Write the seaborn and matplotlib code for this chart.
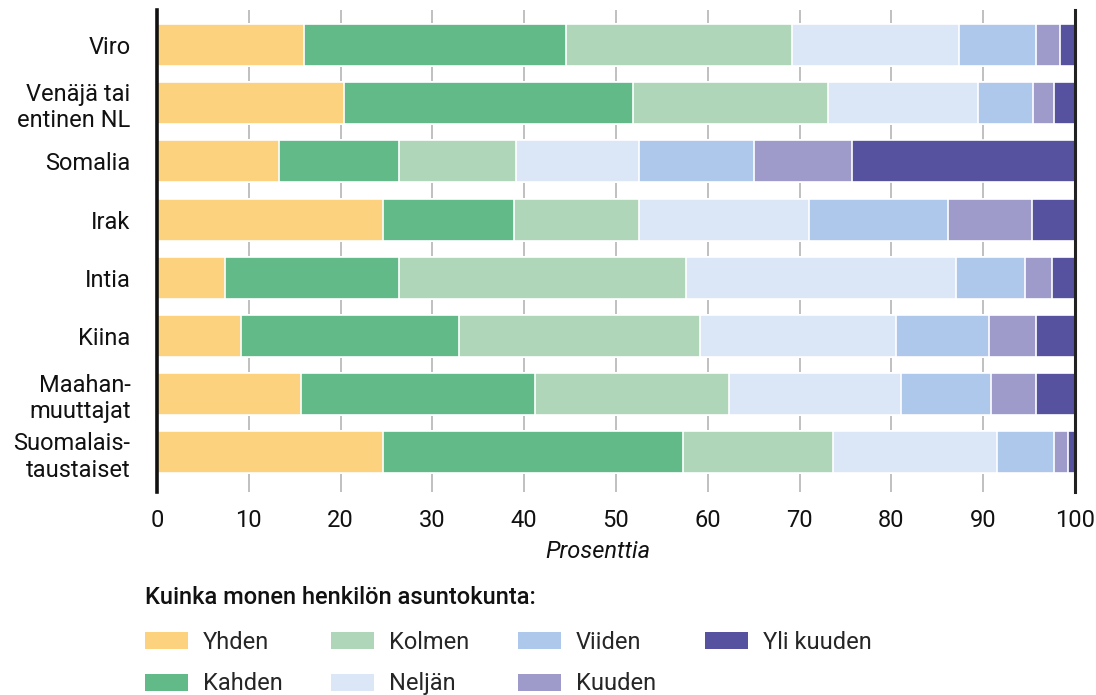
import numpy as np
import pandas as pd
import matplotlib
matplotlib.use('Agg')
import matplotlib.pyplot as plt
import seaborn as sns
from matplotlib.patches import Patch

# Data (percent of households by size)
categories = ["Viro", "Venäjä tai\nentinen NL", "Somalia", "Irak", "Intia", "Kiina",
              "Maahan-\nmuuttajat", "Suomalais-\ntaustaiset"]
segments = ["Yhden", "Kahden", "Kolmen", "Neljän", "Viiden", "Kuuden", "Yli kuuden"]
yhden = [16.0, 20.4, 13.3, 24.6, 7.4, 9.2, 15.7, 24.6]
kahden = [28.5, 31.5, 13.1, 14.3, 19.0, 23.7, 25.5, 32.7]
kolmen = [24.7, 21.2, 12.7, 13.6, 31.2, 26.2, 21.1, 16.3]
neljan = [18.2, 16.3, 13.4, 18.5, 29.4, 21.4, 18.8, 17.9]
viiden = [8.3, 6.0, 12.5, 15.2, 7.5, 10.1, 9.8, 6.2]
kuuden = [2.7, 2.3, 10.7, 9.1, 3.0, 5.1, 4.8, 1.5]
yli_kuuden = [1.6, 2.3, 24.3, 4.7, 2.5, 4.3, 4.3, 0.8]

COLORS = ["#FDD27E", "#62BA88", "#AFD6B8", "#DBE7F6", "#AEC8EB", "#9E9ACA", "#57529F"]

df = pd.DataFrame({"maa": categories, "Yhden": yhden, "Kahden": kahden, "Kolmen": kolmen,
                   "Neljän": neljan, "Viiden": viiden, "Kuuden": kuuden,
                   "Yli kuuden": yli_kuuden})
cum = df[segments].cumsum(axis=1)

sns.set_theme(style="white")
plt.rcParams['font.family'] = ['Roboto', 'DejaVu Sans']

fig = plt.figure(figsize=(10.96, 6.95), dpi=100)
ax = fig.add_axes([157 / 1096, 1 - 492 / 695, 918 / 1096, 482 / 695])

# grid behind bars
for v in range(10, 100, 10):
    ax.axvline(v, color="#BBBBBB", lw=1.3, zorder=0)

# stacked bars: draw cumulative totals from the largest down
for seg, col in reversed(list(zip(segments, COLORS))):
    sns.barplot(x=cum[seg], y=df["maa"], color=col, saturation=1, orient="h", width=0.72,
                edgecolor="white", linewidth=1.2, ax=ax, zorder=2)

ax.set_xlim(0, 100)
ax.set_ylim(7.68, -0.6)
ax.set_xticks(range(0, 101, 10))
ax.tick_params(axis="both", length=0, labelsize=17, colors="#111111")
ax.tick_params(axis="x", pad=12)
ax.tick_params(axis="y", pad=19)
for lab in ax.get_yticklabels():
    lab.set_multialignment("right")
ax.set_ylabel("")
ax.set_xlabel("Prosenttia", fontsize=17, style="italic", color="#111111")
ax.xaxis.set_label_coords(0.48, -0.10)

for s in ["top", "bottom"]:
    ax.spines[s].set_visible(False)
ax.spines["left"].set_color("#111111")
ax.spines["left"].set_linewidth(2.6)
ax.spines["right"].set_color("#222222")
ax.spines["right"].set_linewidth(2.2)
ax.spines["left"].set_zorder(5)
ax.spines["right"].set_zorder(5)

# legend title as its own text, entries below
fig.text(145 / 1096, 1 - 598 / 695, "Kuinka monen henkilön asuntokunta:", fontsize=17,
         fontweight="medium", color="#111111", ha="left", va="center")
handles = [Patch(facecolor=c, edgecolor="none", label=s) for s, c in zip(segments, COLORS)]
leg = fig.legend(handles=handles, loc="upper left", bbox_to_anchor=(145 / 1096, 1 - 631 / 695),
                 ncol=4, frameon=False, fontsize=17, borderpad=0, borderaxespad=0,
                 handlelength=1.82, handleheight=0.72, handletextpad=0.64,
                 columnspacing=2.05, labelspacing=0.78)

fig.savefig("out.png", dpi=100)
